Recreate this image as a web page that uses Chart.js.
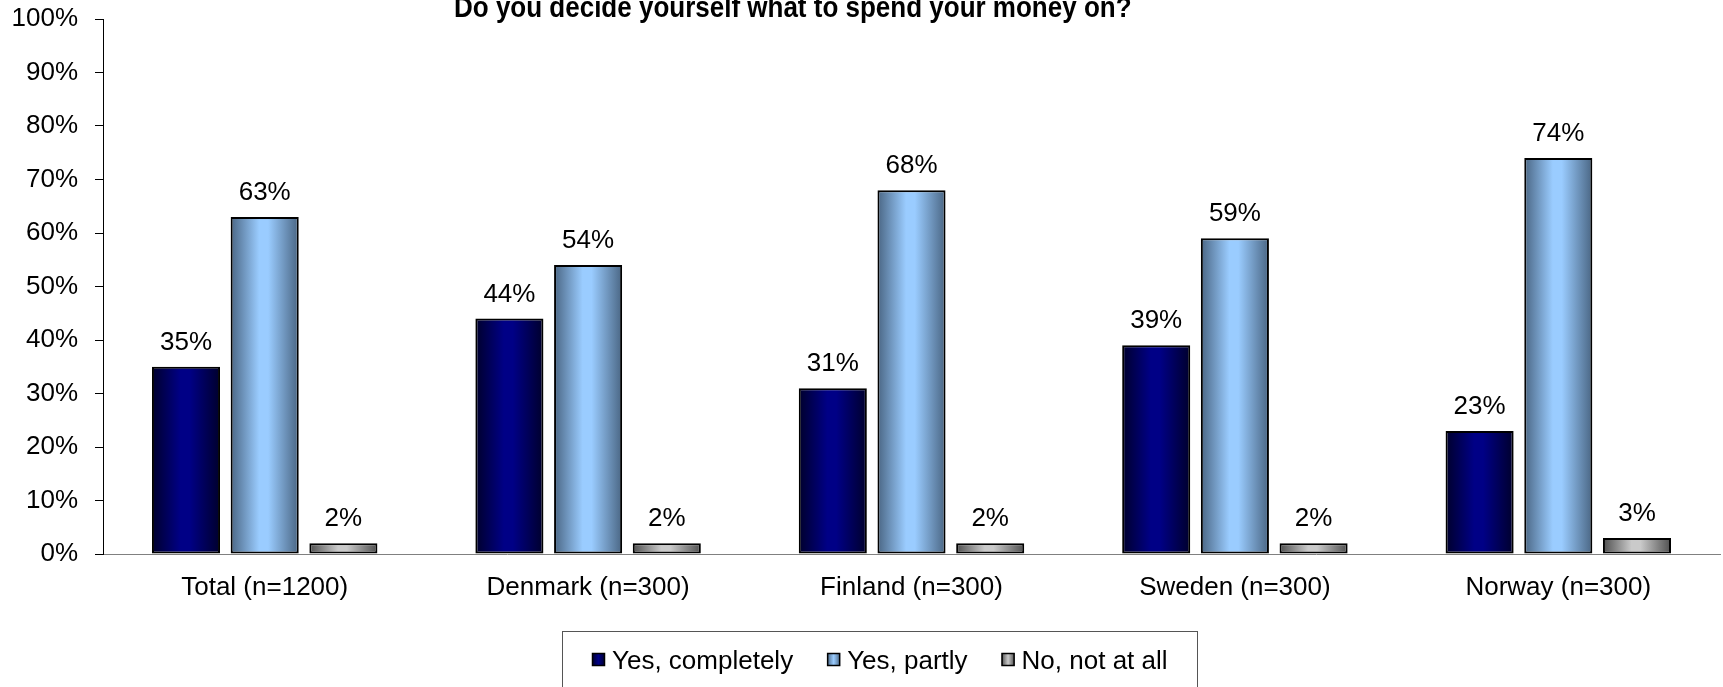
<!DOCTYPE html>
<html>
<head>
<meta charset="utf-8">
<title>Do you decide yourself what to spend your money on?</title>
<script src="https://cdn.jsdelivr.net/npm/chart.js@4.4.0/dist/chart.umd.min.js"></script>
<style>
    html, body { margin: 0; padding: 0; background: #fff; }
    canvas { display: block; }
</style>
</head>
<body>
<canvas id="money-chart" width="1723" height="687"></canvas>
<script>
// Survey data
const chartTitle = 'Do you decide yourself what to spend your money on?';
const countries = ['Total (n=1200)', 'Denmark (n=300)', 'Finland (n=300)', 'Sweden (n=300)', 'Norway (n=300)'];
const seriesNames = ['Yes, completely', 'Yes, partly', 'No, not at all'];
const yesCompletely = [35, 44, 31, 39, 23];
const yesPartly = [63, 54, 68, 59, 74];
const notAtAll = [2, 2, 2, 2, 3];
const yTicks = [0, 10, 20, 30, 40, 50, 60, 70, 80, 90, 100];

const fontFamily = '"Liberation Sans", Arial, sans-serif';

// edge colour / middle colour of each bar's horizontal shading
const shades = [
    ['#00002c', '#000086'],
    ['#4a6684', '#9accff'],
    ['#4f4f4f', '#cacaca']
];

// Excel-like cylinder shading, built per bar once positions are known
const barShading = {
    id: 'barShading',
    beforeDatasetsDraw(chart) {
        const ctx = chart.ctx;
        chart.data.datasets.forEach((ds, i) => {
            const [edge, mid] = shades[i];
            chart.getDatasetMeta(i).data.forEach(bar => {
                const left = bar.x - bar.width / 2;
                const g = ctx.createLinearGradient(left, 0, left + bar.width, 0);
                g.addColorStop(0, edge);
                g.addColorStop(0.42, mid);
                g.addColorStop(0.55, mid);
                g.addColorStop(1, edge);
                bar.options = Object.assign({}, bar.options, { backgroundColor: g });
            });
        });
    }
};

// Percentages above each bar
const valueLabels = {
    id: 'valueLabels',
    afterDatasetsDraw(chart) {
        const ctx = chart.ctx;
        ctx.save();
        ctx.font = '26px ' + fontFamily;
        ctx.fillStyle = '#000';
        ctx.textAlign = 'center';
        ctx.textBaseline = 'alphabetic';
        chart.data.datasets.forEach((ds, i) => {
            chart.getDatasetMeta(i).data.forEach((bar, j) => {
                ctx.fillText(ds.data[j] + '%', bar.x, bar.y - 17);
            });
        });
        ctx.restore();
    }
};

// Title (clipped at the top edge) and the boxed legend below the axis
const titleAndLegend = {
    id: 'titleAndLegend',
    afterDraw(chart) {
        const ctx = chart.ctx;
        ctx.save();
        ctx.fillStyle = '#000';
        ctx.font = 'bold 26px ' + fontFamily;
        ctx.textAlign = 'left';
        ctx.textBaseline = 'alphabetic';
        // slightly tall lettering, anchored on the baseline
        ctx.translate(0, 17);
        ctx.scale(1, 1.15);
        ctx.fillText(chartTitle, 454, 0);
        ctx.setTransform(1, 0, 0, 1, 0, 0);

        // legend frame
        ctx.strokeStyle = '#555';
        ctx.lineWidth = 1;
        ctx.strokeRect(562.5, 631.5, 635, 80);

        ctx.font = '26px ' + fontFamily;
        let x = 592;
        chart.data.datasets.forEach((ds, i) => {
            const g = ctx.createLinearGradient(x, 0, x + 13, 0);
            g.addColorStop(0, shades[i][0]);
            g.addColorStop(0.5, shades[i][1]);
            g.addColorStop(1, shades[i][0]);
            ctx.fillStyle = g;
            ctx.fillRect(x, 653, 13, 13);
            ctx.strokeStyle = '#000';
            ctx.lineWidth = 1.5;
            ctx.strokeRect(x + 0.5, 653.5, 12, 12);
            ctx.fillStyle = '#000';
            ctx.fillText(ds.label, x + 20, 669);
            x += 20 + ctx.measureText(ds.label).width + 34;
        });
        ctx.restore();
    }
};

const datasets = [yesCompletely, yesPartly, notAtAll].map((values, i) => ({
    label: seriesNames[i],
    data: values,
    backgroundColor: () => shades[i][1],
    borderColor: '#000',
    borderWidth: 2,
    borderSkipped: false,
    categoryPercentage: 0.73,
    barPercentage: 0.865
}));

new Chart(document.getElementById('money-chart'), {
    type: 'bar',
    data: { labels: countries, datasets: datasets },
    options: {
        responsive: false,
        animation: false,
        layout: { padding: { top: 19, right: 3, bottom: 0, left: 0 } },
        plugins: {
            legend: { display: false },
            title: { display: false },
            tooltip: { enabled: false }
        },
        scales: {
            x: {
                grid: { display: false, drawTicks: false },
                border: { display: true, color: '#808080', width: 1 },
                ticks: {
                    color: '#000',
                    font: { family: fontFamily, size: 26 },
                    padding: 18,
                    maxRotation: 0,
                    autoSkip: false
                },
                afterFit(scale) { scale.height = 133; }
            },
            y: {
                min: 0,
                max: 100,
                afterBuildTicks(scale) { scale.ticks = yTicks.map(v => ({ value: v })); },
                grid: { display: true, drawOnChartArea: false, drawTicks: true, tickLength: 8, color: '#000' },
                border: { display: true, color: '#000', width: 1 },
                ticks: {
                    color: '#000',
                    font: { family: fontFamily, size: 26 },
                    padding: 17,
                    callback: v => v + '%'
                },
                afterFit(scale) {
                    scale.width = 103;
                    // the 100% label may sit in the top margin
                    scale.paddingTop = 19;
                }
            }
        }
    },
    plugins: [barShading, valueLabels, titleAndLegend]
});
</script>
</body>
</html>
